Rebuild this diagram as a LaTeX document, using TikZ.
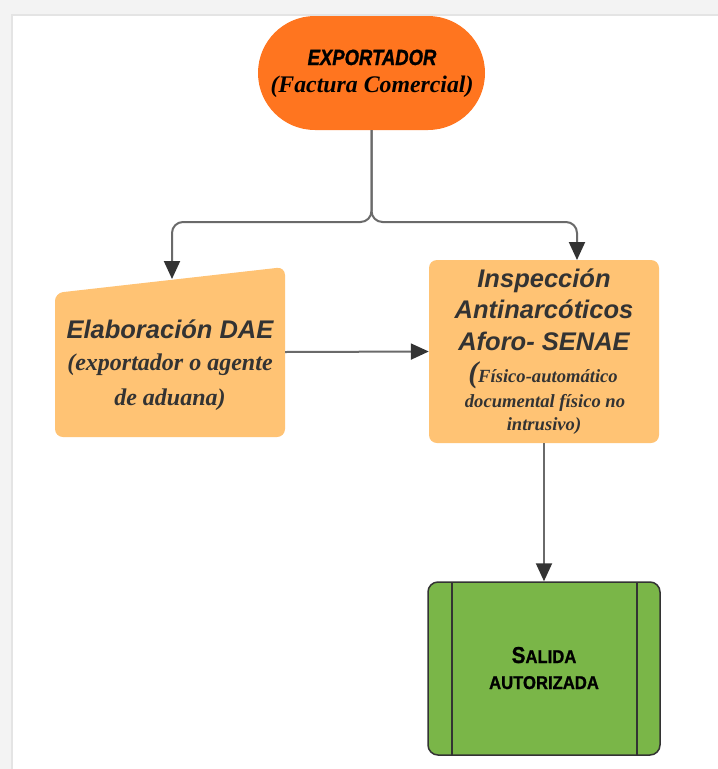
\documentclass[tikz,border=0pt]{standalone}
\usepackage{fontspec}
\setmainfont{Liberation Serif}
\newfontfamily\sansf{Liberation Sans}
\newfontfamily\condf{Liberation Sans}[FakeStretch=0.84,FakeBold=1.2]
\newfontfamily\salf{Liberation Sans}[FakeStretch=0.9,FakeBold=1]
\usetikzlibrary{arrows.meta,shapes.misc,calc}
\definecolor{orangeA}{HTML}{FF751F}
\definecolor{orangeL}{HTML}{FFC374}
\definecolor{greenA}{HTML}{7AB648}
\definecolor{lineg}{HTML}{6A6A6A}
\definecolor{tipg}{HTML}{333333}
\definecolor{darktxt}{HTML}{333333}
\definecolor{frameg}{HTML}{F3F3F3}
\definecolor{frameline}{HTML}{E4E4E4}
\tikzset{
  conn/.style={draw=lineg, line width=2pt, -{Triangle[length=18pt,width=16pt,fill=tipg,color=tipg]}},
  txt/.style={anchor=base, inner sep=0pt},
  titlef/.style={font=\sansf\bfseries\itshape\fontsize{25.5}{30}\selectfont, text=darktxt},
  serifbig/.style={font=\bfseries\itshape\fontsize{24}{30}\selectfont, text=darktxt},
  serifsmall/.style={font=\bfseries\itshape\fontsize{18.6}{24}\selectfont, text=darktxt},
  boxL/.style={fill=orangeL, rounded corners=8pt, minimum width=230pt, inner sep=0pt},
}
\begin{document}
\begin{tikzpicture}[x=1pt,y=-1pt]
\useasboundingbox (0,0) rectangle (718,769);
% frame
\fill[frameg] (0,0) rectangle (718,769);
\fill[white] (12,15) rectangle (718,769);
\draw[frameline, line width=1.5pt] (12,769) -- (12,15) -- (718,15);

% exporter
\node[rounded rectangle, rounded rectangle arc length=180, fill=orangeA,
      minimum width=227pt, minimum height=114pt, inner sep=0pt] (exp) at (371.5,73) {};
\node[txt, font=\condf\bfseries\itshape\fontsize{22}{26}\selectfont] (expt1) at (372,65) {EXPORTADOR};
\node[txt, font=\bfseries\itshape\fontsize{23.8}{28}\selectfont] (expt2) at (372,92) {(Factura Comercial)};

% DAE (manual input shape)
\fill[orangeL, rounded corners=8pt] (55,293) -- (285,267) -- (285,437) -- (55,437) -- cycle;
\node[minimum width=230pt, minimum height=170pt, inner sep=0pt] (dae) at (170,352) {};
\coordinate (daetop) at (172,279);
\node[txt, titlef] (dae1) at (170,338) {Elaboración DAE};
\node[txt, serifbig] (dae2) at (170,370) {(exportador o agente};
\node[txt, serifbig] (dae3) at (170,405) {de aduana)};

% inspection
\node[boxL, minimum height=183pt] (insp) at (544,351.5) {};
\coordinate (insptop) at (577,260);
\node[txt, titlef] (in1) at (544,287) {Inspección};
\node[txt, titlef] (in2) at (544,318) {Antinarcóticos};
\node[txt, titlef] (in3) at (544,350) {Aforo- SENAE};
\node[txt, serifsmall] (in4) at (543,382) {{\fontsize{30}{30}\selectfont(}Físico-automático};
\node[txt, serifsmall] (in5) at (545,407) {documental físico no};
\node[txt, serifsmall] (in6) at (544,430) {intrusivo)};

% output
\node[draw=tipg, fill=greenA, line width=1.5pt, rounded corners=10pt,
      minimum width=232pt, minimum height=173pt, inner sep=0pt] (out) at (544,668.5) {};
\draw[tipg, line width=1.3pt] (452,582) -- (452,755);
\draw[tipg, line width=1.3pt] (637,582) -- (637,755);
\node[txt, font=\salf\bfseries] (out1) at (544,663) {{\fontsize{23}{27}\selectfont S}{\fontsize{18.5}{22}\selectfont ALIDA}};
\node[txt, font=\salf\bfseries\fontsize{18.5}{22}\selectfont] (out2) at (544,689) {AUTORIZADA};

% connectors
\draw[conn, rounded corners=11pt] (exp.south) |- (daetop |- 0,222) -- (daetop);
\draw[conn, rounded corners=11pt] (exp.south) |- (insptop |- 0,222) -- (insptop);
\draw[conn] (dae.east) -- (insp.west);
\draw[conn] (insp.south) -- (out.north);
\end{tikzpicture}
\end{document}
